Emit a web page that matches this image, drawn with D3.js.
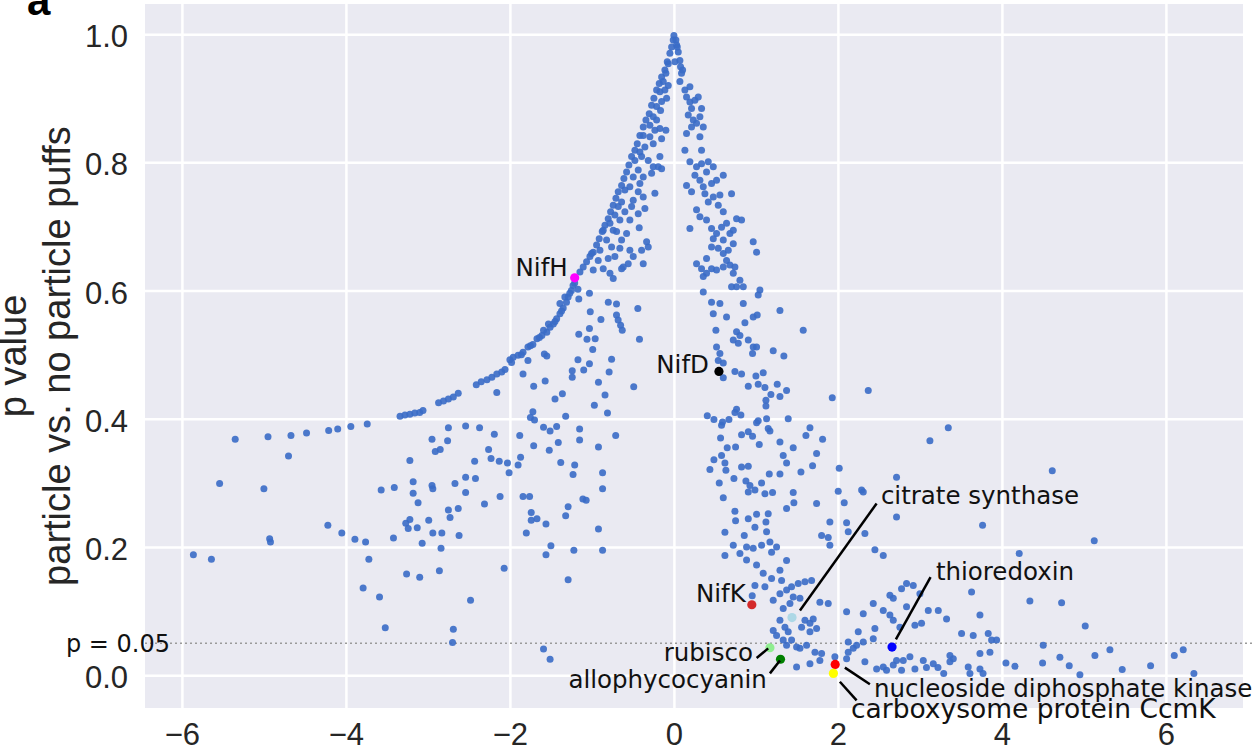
<!DOCTYPE html>
<html><head><meta charset="utf-8">
<script src="https://cdn.jsdelivr.net/npm/d3@7"></script>
<style>body{margin:0;background:#fff;}svg{display:block;}</style>
</head><body>
<svg id="chart" width="1254" height="752"></svg>
<script>
// ---------- DATA (log2 fold change, p value) ----------
const xTicks = [-6, -4, -2, 0, 2, 4, 6];
const yTicks = [0.0, 0.2, 0.4, 0.6, 0.8, 1.0];
const pThreshold = 0.05;

const leftTail = [
[-5.35,0.368],[-4.95,0.372],[-4.67,0.374],[-4.48,0.378],[-4.21,0.382],[-4.10,0.384],[-3.94,0.388],[-3.74,0.392],
[-3.34,0.404],[-3.28,0.406],[-3.22,0.407],[-3.16,0.409],[-3.10,0.41],[-3.06,0.413],
[-2.75,0.386],[-2.95,0.368],[-2.76,0.366],[-2.91,0.349],[-2.85,0.352],
[-4.70,0.342],[-3.22,0.335],[-5.54,0.299],[-5.0,0.291],[-3.57,0.289],[-3.41,0.293],[-3.18,0.302],[-2.95,0.296],
[-2.94,0.291],[-2.67,0.299],[-3.18,0.284],[-3.12,0.269],[-2.75,0.258],[-2.63,0.26],[-2.73,0.246],[-2.99,0.242],
[-3.22,0.243],[-3.27,0.237],[-3.24,0.229],[-3.13,0.230],[-2.94,0.222],[-2.83,0.222],[-2.62,0.218],[-4.22,0.234],
[-4.05,0.222],[-3.89,0.212],[-3.76,0.208],[-3.42,0.214],[-3.07,0.206],[-2.84,0.198],[-4.93,0.213],[-4.92,0.208],
[-5.86,0.188],[-5.64,0.181],[-3.72,0.181],[-3.26,0.158],[-3.10,0.153],[-2.86,0.163],[-3.79,0.136],[-3.59,0.122],
[-3.52,0.074],[-2.69,0.072],[-2.70,0.051]
];

const leftCurve = [
[-2.87,0.425],[-2.81,0.428],[-2.75,0.431],[-2.69,0.434],[-2.63,0.44],
[-2.41,0.453],[-2.35,0.458],[-2.28,0.461],[-2.22,0.465],[-2.16,0.47],[-2.10,0.473],[-2.06,0.477],[-2.0,0.492],[-1.96,0.496],
[-1.90,0.499],[-1.84,0.504],[-1.78,0.512],[-1.72,0.516],[-1.67,0.525],[-1.61,0.530],[-1.55,0.535],[-1.51,0.543],
[-1.47,0.548],[-1.43,0.556],[-1.39,0.564],[-1.35,0.573],[-1.31,0.582],[-1.29,0.590],[-1.25,0.600],[-1.23,0.608],
[-1.53,0.548],[-1.59,0.538],[-1.39,0.580],[-1.33,0.590],[-1.98,0.488],[-1.86,0.500],[-1.75,0.514],[-1.64,0.527],
[-1.45,0.552],[-1.37,0.568],[-1.27,0.596],[-1.21,0.612]
];

const leftInner = [
[-1.17,0.602],[-1.03,0.596],[-1.16,0.587],[-0.80,0.582],[-0.70,0.579],[-0.44,0.572],[-1.02,0.567],[-0.89,0.555],
[-0.70,0.562],[-0.68,0.554],[-0.65,0.546],[-0.63,0.538],[-1.03,0.541],[-1.16,0.532],[-1.06,0.524],[-0.96,0.525],
[-0.99,0.508],[-0.42,0.524],[-1.55,0.498],[-1.58,0.501],[-1.78,0.491],[-1.17,0.492],[-1.03,0.486],[-0.76,0.493],
[-1.10,0.476],[-1.24,0.475],[-1.24,0.465],[-1.84,0.470],[-1.57,0.459],[-1.71,0.451],[-2.16,0.441],[-0.92,0.457],
[-0.79,0.473],[-0.49,0.45],[-1.45,0.431],[-1.36,0.439],[-0.84,0.437],[-0.97,0.421],[-0.81,0.409],[-1.32,0.404],
[-1.72,0.411],[-1.75,0.402],[-1.70,0.398],[-1.59,0.387],[-1.51,0.381],[-1.43,0.388],[-1.15,0.384],[-0.71,0.374],
[-2.54,0.389],[-2.37,0.386],[-2.19,0.376],[-1.88,0.374],[-2.26,0.352],[-1.71,0.358],[-1.52,0.351],[-1.41,0.363],
[-1.15,0.367],[-0.92,0.356],
[-2.43,0.334],[-2.23,0.338],[-2.13,0.334],[-2.03,0.331],[-2.01,0.316],[-1.90,0.328],[-1.87,0.340],[-1.38,0.332],
[-1.21,0.328],[-1.23,0.313],[-0.87,0.316],[-2.54,0.309],[-2.42,0.307],[-2.54,0.285],[-2.12,0.279],[-1.84,0.279],
[-1.76,0.279],[-0.87,0.291],[-1.11,0.275],[-1.07,0.273],[-2.31,0.267],[-1.74,0.254],[-1.74,0.242],[-1.67,0.244],
[-1.56,0.236],[-1.29,0.263],[-1.32,0.249],[-0.92,0.228],[-1.80,0.222],[-1.50,0.202],[-1.56,0.188],[-1.22,0.195],
[-0.87,0.195],[-2.07,0.167],[-2.48,0.117],[-1.29,0.149],[-1.59,0.041],[-1.51,0.025]
];

const coneLeft = [
[0.0,0.998],[-0.008,0.991],[-0.028,0.980],[-0.049,0.970],[-0.081,0.957],[-0.110,0.944],[-0.150,0.933],[-0.179,0.923],
[-0.211,0.913],[-0.244,0.900],[-0.272,0.889],[-0.301,0.876],[-0.341,0.866],[-0.374,0.855],[-0.415,0.842],[-0.447,0.829],
[-0.476,0.819],[-0.516,0.809],[-0.549,0.796],[-0.577,0.785],[-0.610,0.775],[-0.638,0.764],[-0.679,0.754],[-0.707,0.744],
[-0.740,0.733],[-0.772,0.723],[-0.801,0.712],[-0.841,0.702],[-0.874,0.692],[-0.911,0.681],[-0.943,0.671],[-0.984,0.660],
[-1.024,0.653],[-1.065,0.645],[-1.106,0.637],[-1.146,0.629],
[0.033,0.983],[0.053,0.972],[0.073,0.959],[-0.069,0.954],[0.012,0.957],[0.106,0.944],[0.073,0.926],[-0.098,0.939],
[-0.130,0.926],[-0.069,0.920],[-0.171,0.910],[-0.110,0.913],[-0.089,0.900],[-0.150,0.895],[-0.211,0.887],[-0.163,0.881],
[-0.252,0.871],[-0.211,0.866],[-0.293,0.858],[-0.171,0.853],[-0.098,0.850],[-0.232,0.850],[-0.374,0.842],[-0.293,0.840],
[-0.150,0.837],[-0.354,0.824],[-0.252,0.829],[-0.415,0.816],[-0.476,0.803],[-0.394,0.809],[-0.313,0.803],[-0.171,0.809],
[-0.191,0.793],[-0.252,0.793],[-0.150,0.790],[-0.272,0.783],[-0.435,0.788],[-0.496,0.777],[-0.374,0.777],[-0.415,0.767],
[-0.537,0.762],[-0.598,0.757],[-0.435,0.754],[-0.232,0.752],[-0.374,0.746],[-0.496,0.741],[-0.638,0.738],[-0.679,0.731],
[-0.516,0.731],[-0.354,0.728],[-0.435,0.720],[-0.598,0.723],[-0.720,0.718],[-0.659,0.710],[-0.537,0.710],[-0.780,0.705],
[-0.740,0.694],[-0.862,0.694],[-0.699,0.692],[-0.423,0.698],[-0.577,0.689],[-0.638,0.679],[-0.821,0.679],[-0.760,0.668],
[-0.659,0.666],[-0.537,0.663],[-0.394,0.663],[-0.313,0.668],[-0.333,0.676],[-0.902,0.663],[-1.004,0.658],[-0.923,0.647],
[-0.801,0.650],[-0.720,0.653],[-0.496,0.653],[-0.374,0.642],[-0.618,0.637],[-0.862,0.634],[-0.780,0.627],[-0.740,0.619],
[-0.638,0.634],[-0.557,0.642],[-0.984,0.632]
];

const coneRight = [
[0.024,0.991],[0.041,0.980],[0.081,0.949],[0.093,0.939],[0.134,0.913],[0.154,0.902],[0.195,0.894],[0.215,0.884],
[0.175,0.874],[0.236,0.866],[0.215,0.855],[0.276,0.861],[0.317,0.871],[0.337,0.884],[0.256,0.897],[0.195,0.918],
[0.297,0.902],[0.358,0.855],[0.317,0.840],[0.154,0.845],[0.134,0.819],[0.337,0.819],[0.195,0.801],[0.276,0.793],
[0.337,0.798],[0.419,0.801],[0.480,0.793],[0.398,0.785],[0.256,0.780],[0.317,0.772],[0.602,0.780],[0.154,0.764],
[0.215,0.754],[0.358,0.762],[0.459,0.767],[0.520,0.772],[0.378,0.751],[0.480,0.746],[0.561,0.749],[0.703,0.751],
[0.419,0.738],[0.541,0.733],[0.602,0.723],[0.276,0.726],[0.317,0.715],[0.398,0.710],[0.195,0.697],[0.459,0.697],
[0.520,0.689],[0.581,0.699],[0.642,0.705],[0.724,0.694],[0.764,0.712],[0.825,0.710],[0.480,0.681],[0.602,0.679],
[0.683,0.689],[0.459,0.668],[0.541,0.666],[0.602,0.658],[0.663,0.663],[0.724,0.673],[0.398,0.650],[0.276,0.642],
[0.337,0.634],[0.398,0.627],[0.459,0.634],[0.520,0.632],[0.602,0.637],[0.683,0.640],[0.744,0.637],[0.642,0.647],
[0.724,0.627],[0.805,0.616],[0.846,0.606],[0.703,0.606],[0.764,0.606],[0.358,0.622],[0.358,0.598],[0.967,0.676],
[1.008,0.660],[1.049,0.601],[1.028,0.593],[0.846,0.580],[0.561,0.580],[0.459,0.582],[0.480,0.564],[0.642,0.559],
[1.293,0.569],[0.967,0.559]
];

const middle = [
[0.866,0.550],[1.016,0.562],[1.577,0.538],[0.512,0.538],[0.764,0.536],[0.805,0.530],[0.724,0.523],[0.785,0.518],
[0.907,0.523],[0.967,0.512],[1.008,0.512],[0.520,0.512],[0.561,0.502],[0.602,0.487],[0.541,0.491],[1.211,0.506],
[1.341,0.498],[0.959,0.502],[0.602,0.464],[0.744,0.474],[0.825,0.470],[0.907,0.451],[1.000,0.467],[1.089,0.472],
[1.028,0.454],[1.110,0.449],[1.260,0.454],[1.374,0.444],[1.183,0.438],[1.293,0.435],[1.122,0.429],[1.122,0.420],
[0.764,0.415],[0.744,0.410],[0.817,0.406],[2.370,0.444],[1.931,0.433],[0.407,0.405],[0.488,0.399],[0.581,0.390],
[0.671,0.399],[0.593,0.395],
[1.008,0.394],[1.130,0.400],[1.028,0.397],[1.150,0.385],[1.171,0.381],[1.394,0.400],[1.659,0.386],[1.610,0.374],
[1.813,0.368],[0.907,0.380],[0.825,0.375],[0.959,0.373],[0.569,0.370],[1.041,0.360],[1.293,0.364],[1.455,0.355],
[0.650,0.355],[0.752,0.356],[0.581,0.343],[0.488,0.336],[0.622,0.331],[0.634,0.320],[0.439,0.321],[1.333,0.343],
[1.374,0.331],[0.825,0.325],[0.907,0.326],[1.740,0.346],[1.691,0.327],[2.016,0.323],[1.549,0.317],[1.163,0.314],
[1.293,0.314],[0.732,0.307],[0.553,0.300],[0.602,0.277],
[0.878,0.303],[0.927,0.296],[0.988,0.289],[1.069,0.300],[1.110,0.283],[1.203,0.285],[1.455,0.285],[1.374,0.260],
[1.463,0.269],[1.740,0.268],[2.004,0.287],[2.077,0.269],[2.289,0.289],[2.309,0.286],[0.907,0.286],
[0.744,0.256],[0.752,0.241],[0.907,0.244],[1.008,0.251],[1.150,0.252],[0.988,0.231],[1.122,0.239],[1.130,0.224],
[0.622,0.223],[0.858,0.218],[0.724,0.203],[0.805,0.190],[0.886,0.200],[0.967,0.198],[1.069,0.203],[1.171,0.208],
[1.252,0.200],[1.191,0.192],[0.622,0.187],[0.886,0.180],[1.374,0.179],[1.902,0.239],[2.106,0.238],[1.801,0.218],
[1.882,0.215],[1.902,0.203],[2.126,0.224],[2.329,0.221],[2.451,0.196],[2.553,0.187],[2.715,0.309],[2.715,0.247]
];

const lowerRight = [
[1.008,0.172],[1.089,0.159],[1.293,0.164],[1.191,0.151],[1.313,0.148],[0.988,0.140],[1.110,0.138],[1.211,0.117],
[1.293,0.127],[1.374,0.133],[1.435,0.138],[1.516,0.143],[1.598,0.146],[1.679,0.148],[1.455,0.122],[1.537,0.120],
[1.415,0.112],[1.333,0.104],[1.293,0.086],[1.354,0.075],[1.211,0.070],[1.252,0.062],[1.333,0.055],[1.394,0.068],
[1.557,0.075],[1.598,0.086],[1.659,0.081],[1.699,0.088],[1.740,0.073],[1.659,0.068],[1.374,0.047],[1.435,0.055],
[1.496,0.044],[1.537,0.042],[1.618,0.047],[1.720,0.036],[1.780,0.023],[1.659,0.018],[1.801,0.034],[1.496,0.013],
[1.963,0.029],[2.106,0.026],[2.126,0.036],[2.187,0.042],[2.228,0.047],[1.780,0.114],[1.882,0.112],[2.106,0.099],
[2.309,0.096],[2.431,0.112],[2.553,0.101],[2.634,0.125],[2.675,0.120],[2.776,0.135],[2.837,0.143],[2.919,0.140],
[3.000,0.127],[2.837,0.107],[2.939,0.078],[3.020,0.081],[3.102,0.101],[3.224,0.101],[3.325,0.088],[3.508,0.065],
[3.630,0.130],[3.732,0.094],[3.833,0.065],[3.732,0.034],[3.854,0.036],[3.366,0.031],[3.407,0.026],[3.366,0.021],
[3.163,0.018],[3.041,0.023],[2.878,0.029],[2.797,0.023],[2.715,0.023],[2.675,0.016],[2.553,0.013],[2.472,0.010],
[2.593,0.008],[2.776,0.008],[2.939,0.010],[2.309,0.052],[2.329,0.021],[2.451,0.073],[2.431,0.057],[2.634,0.094],
[2.675,0.086],[2.756,0.075],[2.248,0.068],[2.126,0.052],[3.589,0.013],[3.732,0.010],[3.874,0.055],[3.935,0.055],
[3.650,0.062],[0.955,0.124],[3.08,0.012],[3.22,0.012],[3.29,0.003],[3.61,0.003],[3.77,0.003]
];

const farRight = [
[3.346,0.386],[3.122,0.366],[4.614,0.319],[3.764,0.234],[5.126,0.210],[4.211,0.190],[4.341,0.116],[4.728,0.113],
[5.016,0.077],[4.504,0.047],[4.707,0.028],[4.821,0.015],[4.951,0.001],[5.134,0.031],[5.317,0.040],[5.467,0.009],
[5.813,0.015],[6.102,0.031],[6.211,0.040],[6.341,0.003],[4.496,0.019],[4.049,0.019],[4.159,0.014]
];

const geneNames  = ["NifH", "NifD", "NifK", "citrate synthase", "rubisco", "allophycocyanin",
                    "nucleoside diphosphate kinase", "carboxysome protein CcmK", "thioredoxin"];
const geneFC     = [-1.21, 0.549, 0.95, 1.44, 1.171, 1.30, 1.967, 1.945, 2.66];
const geneP      = [0.620, 0.474, 0.110, 0.090, 0.043, 0.025, 0.017, 0.003, 0.044];
const geneColors = ["#ff00ff", "#000000", "#d42a2a", "#add8e6", "#90ee90", "#008000", "#ff0000", "#ffff00", "#0000ff"];

// ---------- LAYOUT ----------
const W = 1254, H = 752;
const plot = {left: 145, right: 1243, top: 4, bottom: 708};
const svg = d3.select("#chart");
const x = d3.scaleLinear().domain([-6.45, 6.94]).range([plot.left, plot.right]);
const y = d3.scaleLinear().domain([-0.051, 1.047]).range([plot.bottom, plot.top]);

const tickFont = "'Liberation Sans', Arial, Helvetica, sans-serif";
const annFont = "'DejaVu Sans', Verdana, sans-serif";

svg.append("rect").attr("width", W).attr("height", H).attr("fill", "#fff");
svg.append("rect").attr("x", plot.left).attr("y", plot.top)
  .attr("width", plot.right - plot.left).attr("height", plot.bottom - plot.top).attr("fill", "#EAEAF2");

// gridlines
svg.append("g").attr("transform", `translate(0,${plot.bottom})`)
  .call(d3.axisBottom(x).tickValues(xTicks).tickSize(-(plot.bottom - plot.top)).tickFormat(""))
  .call(g => { g.select(".domain").remove(); g.selectAll("line").attr("stroke", "#fff").attr("stroke-width", 2.5); });
svg.append("g").attr("transform", `translate(${plot.left},0)`)
  .call(d3.axisLeft(y).tickValues(yTicks).tickSize(-(plot.right - plot.left)).tickFormat(""))
  .call(g => { g.select(".domain").remove(); g.selectAll("line").attr("stroke", "#fff").attr("stroke-width", 2.5); });

// tick labels
svg.append("g").attr("transform", `translate(0,${plot.bottom})`)
  .call(d3.axisBottom(x).tickValues(xTicks).tickSize(0).tickPadding(15))
  .call(g => { g.select(".domain").remove();
    g.selectAll("text").attr("font-family", tickFont).attr("font-size", 31).attr("fill", "#262626"); });
svg.append("g").attr("transform", `translate(${plot.left},0)`)
  .call(d3.axisLeft(y).tickValues(yTicks).tickSize(0).tickPadding(17).tickFormat(d3.format(".1f")))
  .call(g => { g.select(".domain").remove();
    g.selectAll("text").attr("font-family", tickFont).attr("font-size", 31).attr("fill", "#262626").attr("dy", "0.4em"); });

// axis label
const yMid = (plot.top + plot.bottom) / 2;
[["p value", 26], ["particle vs. no particle puffs", 70]].forEach(([t, bx]) => {
  svg.append("text").attr("transform", `translate(${bx},${yMid}) rotate(-90)`)
    .attr("text-anchor", "middle").attr("font-family", tickFont).attr("font-size", 38)
    .attr("fill", "#262626").text(t);
});

// panel letter
svg.append("text").attr("x", 27).attr("y", 15).attr("font-family", tickFont)
  .attr("font-weight", "bold").attr("font-size", 42).attr("fill", "#000").text("a");

// threshold line
svg.append("line").attr("x1", plot.left).attr("x2", W).attr("y1", y(pThreshold)).attr("y2", y(pThreshold))
  .attr("stroke", "#9a9a9a").attr("stroke-width", 1.6).attr("stroke-dasharray", "2,3");
svg.append("text").attr("x", 170).attr("y", y(pThreshold) + 9).attr("text-anchor", "end")
  .attr("font-family", annFont).attr("font-size", 24).attr("fill", "#111").text("p = 0.05");

// points
const allPoints = [].concat(leftTail, leftCurve, leftInner, coneLeft, coneRight, middle, lowerRight, farRight);
svg.append("g").selectAll("circle").data(allPoints).join("circle")
  .attr("cx", d => x(d[0])).attr("cy", d => y(d[1])).attr("r", 3.5)
  .attr("fill", "#3a6cc6").attr("fill-opacity", 0.9);

// highlighted genes
const genes = geneNames.map((n, i) => ({name: n, fc: geneFC[i], p: geneP[i], color: geneColors[i]}));
svg.append("g").selectAll("circle").data(genes).join("circle")
  .attr("cx", d => x(d.fc)).attr("cy", d => y(d.p)).attr("r", 4.6).attr("fill", d => d.color);

// annotations
const labelDirect = {
  "NifH": {dx: -7, dy: -2},
  "NifD": {dx: -10, dy: 2},
  "NifK": {dx: -6, dy: -3}
};
const labelArrow = {
  "citrate synthase": {tx: 2.524, ty: 0.267, anchor: "start", size: 24.5, from: [2.472, 0.268], to: [1.537, 0.101]},
  "thioredoxin": {tx: 3.195, ty: 0.148, anchor: "start", size: 24.5, from: [3.13, 0.153], to: [2.707, 0.056]},
  "rubisco": {tx: 0.963, ty: 0.023, anchor: "end", size: 24.5, from: [1.009, 0.027], to: [1.15, 0.042]},
  "allophycocyanin": {tx: 1.134, ty: -0.020, anchor: "end", size: 24.5, from: [1.171, 0.003], to: [1.293, 0.023]},
  "nucleoside diphosphate kinase": {tx: 2.439, ty: -0.034, anchor: "start", size: 24.5, from: [2.085, 0.012], to: [2.39, -0.014]},
  "carboxysome protein CcmK": {tx: 2.159, ty: -0.067, anchor: "start", size: 26.5, from: [2.024, -0.010], to: [2.228, -0.039]}
};
genes.forEach(g => {
  if (labelDirect[g.name]) {
    const o = labelDirect[g.name];
    svg.append("text").attr("x", x(g.fc) + o.dx).attr("y", y(g.p) + o.dy).attr("text-anchor", "end")
      .attr("font-family", annFont).attr("font-size", 24.5).attr("fill", "#111").text(g.name);
  } else if (labelArrow[g.name]) {
    const o = labelArrow[g.name];
    svg.append("line").attr("x1", x(o.from[0])).attr("y1", y(o.from[1]))
      .attr("x2", x(o.to[0])).attr("y2", y(o.to[1])).attr("stroke", "#000").attr("stroke-width", 2.5);
    svg.append("text").attr("x", x(o.tx)).attr("y", y(o.ty)).attr("text-anchor", o.anchor)
      .attr("font-family", annFont).attr("font-size", o.size).attr("fill", "#111").text(g.name);
  }
});
</script>
</body></html>
